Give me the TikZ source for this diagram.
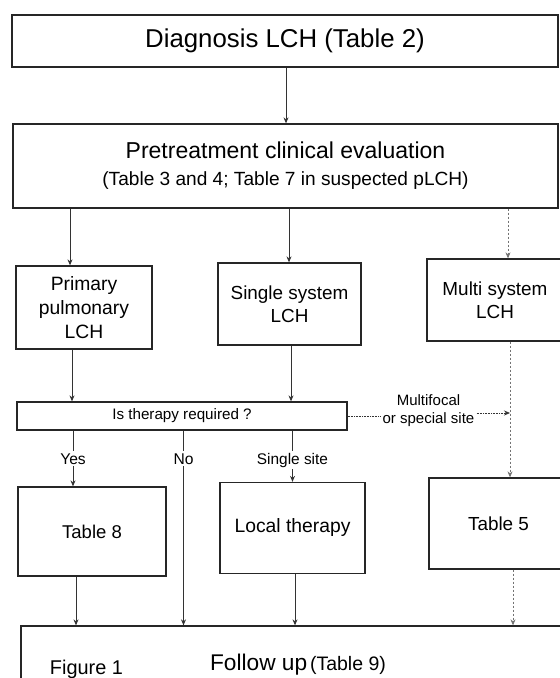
\documentclass[tikz,border=0pt]{standalone}
\usepackage{fontspec}
\setmainfont{Liberation Sans}
\usetikzlibrary{arrows.meta}
\begin{document}
\begin{tikzpicture}[x=1pt,y=-1pt,
  box/.style={draw=black!85, line width=1.3pt, rectangle, inner sep=0pt, align=center},
  link/.style={draw=black!80, line width=0.9pt},
  arr/.style={link, -{Stealth[length=6pt,width=5pt]}},
  dashlink/.style={draw=black!55, line width=0.7pt, dash pattern=on 2.5pt off 1.5pt, -{Stealth[length=6pt,width=5pt]}},
  dotlink/.style={draw=black!80, line width=0.8pt, dash pattern=on 0.8pt off 0.8pt},
  lbl/.style={inner sep=2pt, align=center}
]
\useasboundingbox (0,0) rectangle (560,678);
\fill[white] (0,0) rectangle (560,678);

% column coordinates
\coordinate (cTop) at (286,0);
\coordinate (cA) at (70,0);
\coordinate (cB) at (289,0);
\coordinate (cC) at (508,0);
\coordinate (cD) at (72,0);
\coordinate (cE) at (291,0);
\coordinate (cF) at (510,0);
\coordinate (cG) at (76,0);
\coordinate (cH) at (295,0);
\coordinate (cI) at (513,0);

% boxes
\node[box, minimum width=546pt, minimum height=52pt,
      font=\fontsize{25.8}{30}\selectfont] (diag) at (285,41) {Diagnosis LCH (Table 2)};
\node[box, minimum width=545pt, minimum height=84pt,
      font=\fontsize{19.1}{27}\selectfont] (pre) at (285.5,166)
  {{\fontsize{23}{27}\selectfont Pretreatment clinical evaluation}\\
   (Table 3 and 4; Table 7 in suspected pLCH)};
\node[box, minimum width=136pt, minimum height=83pt,
      font=\fontsize{19.3}{24}\selectfont] (prim) at (84,307.5) {Primary\\pulmonary\\LCH};
\node[box, minimum width=143pt, minimum height=82pt,
      font=\fontsize{18.9}{23}\selectfont] (single) at (289.5,304) {Single system\\LCH};
\node[box, minimum width=136pt, minimum height=82pt,
      font=\fontsize{18.9}{23}\selectfont] (multi) at (495,300) {Multi system\\LCH};
\node[box, minimum width=330pt, minimum height=28pt,
      font=\fontsize{15.2}{18}\selectfont] (ther) at (182,416) {Is therapy required ?};
\node[box, minimum width=148pt, minimum height=89pt,
      font=\fontsize{18.5}{22}\selectfont] (t8) at (92,531.5) {Table 8};
\node[box, minimum width=145pt, minimum height=91pt,
      font=\fontsize{19.3}{22}\selectfont] (local) at (292.5,528) {Local therapy};
\node[box, minimum width=139pt, minimum height=91pt,
      font=\fontsize{18.9}{22}\selectfont] (t5) at (498.5,523.5) {Table 5};
\node[box, minimum width=554pt, minimum height=78pt] (follow) at (298,665)
  {{\fontsize{22.7}{26}\selectfont Follow up} {\fontsize{19.5}{22}\selectfont(Table 9)}};
\node[inner sep=0pt, anchor=base, font=\fontsize{19.9}{22}\selectfont] (fig) at (86.5,674) {Figure 1};

% labels
\node[lbl, anchor=base, font=\fontsize{15.6}{18}\selectfont] (yes) at (73,464) {Yes};
\node[lbl, anchor=base, font=\fontsize{15.6}{18}\selectfont] (no) at (183.5,464) {No};
\node[lbl, anchor=base, font=\fontsize{15.4}{18}\selectfont] (ssite) at (292.5,464) {Single site};
\node[lbl, font=\fontsize{15}{18}\selectfont] (mf) at (428.5,411) {Multifocal\\or special site};

% connectors
\draw[arr] (diag.south -| cTop) -- (pre.north -| cTop);
\draw[arr] (pre.south -| cA) -- (prim.north -| cA);
\draw[arr] (pre.south -| cB) -- (single.north -| cB);
\draw[dashlink] (pre.south -| cC) -- (multi.north -| cC);
\draw[arr] (prim.south -| cD) -- (ther.north -| cD);
\draw[arr] (single.south -| cE) -- (ther.north -| cE);
\draw[dashlink] (multi.south -| cF) -- (t5.north -| cF);

\draw[link] (ther.south -| yes.north) -- (yes.north);
\draw[arr] (yes.south) -- (yes.south |- t8.north);
\draw[link] (ther.south -| no.north) -- (no.north);
\draw[arr] (no.south) -- (no.south |- follow.north);
\draw[link] (ther.south -| ssite.north) -- (ssite.north);
\draw[arr] (ssite.south) -- (ssite.south |- local.north);

\draw[dotlink] (ther.east) -- (ther.east -| mf.west);
\draw[dotlink, -{Stealth[length=6pt,width=5pt]}] ([yshift=-2pt]mf.east) -- ([yshift=-2pt]mf.east -| cF);

\draw[arr] (t8.south -| cG) -- (follow.north -| cG);
\draw[arr] (local.south -| cH) -- (follow.north -| cH);
\draw[dashlink] (t5.south -| cI) -- (follow.north -| cI);
\end{tikzpicture}
\end{document}
